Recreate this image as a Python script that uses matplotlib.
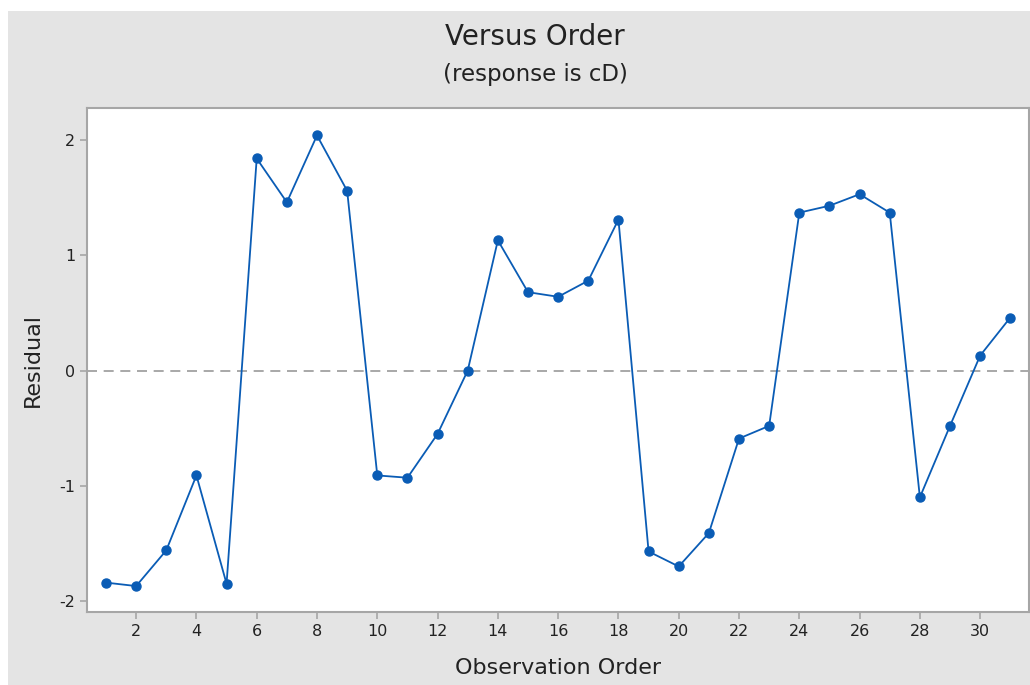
import matplotlib
matplotlib.use('Agg')
import matplotlib.pyplot as plt
from matplotlib.patches import Rectangle

# residuals in observation order
order = list(range(1, 32))
residual = [-1.84, -1.87, -1.56, -0.91, -1.85, 1.84, 1.46, 2.04, 1.56, -0.91,
            -0.93, -0.55, 0.00, 1.13, 0.68, 0.64, 0.78, 1.31, -1.57, -1.70,
            -1.41, -0.59, -0.48, 1.37, 1.43, 1.53, 1.37, -1.10, -0.48, 0.13, 0.46]
xticks = list(range(2, 31, 2))
yticks = [-2, -1, 0, 1, 2]

plt.rcParams['font.family'] = 'DejaVu Sans'

fig = plt.figure(figsize=(10.30, 6.85), dpi=100)
fig.patches.append(Rectangle((8/1030, 0), 1, (685-11)/685, transform=fig.transFigure,
                             facecolor='#e4e4e4', edgecolor='none', zorder=-10))

ax = fig.add_axes([87/1030, (685-612)/685, (1029-87)/1030, (612-108)/685])
ax.set_facecolor('white')

ax.axhline(0, color='#999999', lw=1.2, dashes=(6, 4), zorder=1)
ax.plot(order, residual, color='#0a5cb5', lw=1.3, marker='o', markersize=6.5, zorder=2)

ax.set_xlim(0.37, 31.62)
ax.set_ylim(-2.095, 2.278)
ax.set_xticks(xticks)
ax.set_yticks(yticks)
ax.set_yticklabels([str(v) for v in yticks])
for s in ax.spines.values():
    s.set_color('#a6a6a6')
    s.set_linewidth(1.5)
ax.tick_params(colors='#a6a6a6', labelcolor='#222222', length=5, width=1.2, labelsize=11.5)

ax.set_xlabel('Observation Order', fontsize=16, color='#222222', labelpad=14)
ax.set_ylabel('Residual', fontsize=16, color='#222222', labelpad=12)

fig.text(535/1030, 1 - 37/685, 'Versus Order', ha='center', va='center', fontsize=20, color='#222222')
fig.text(535/1030, 1 - 75/685, '(response is cD)', ha='center', va='center', fontsize=16.5, color='#222222')

fig.savefig('out.png', dpi=100)
